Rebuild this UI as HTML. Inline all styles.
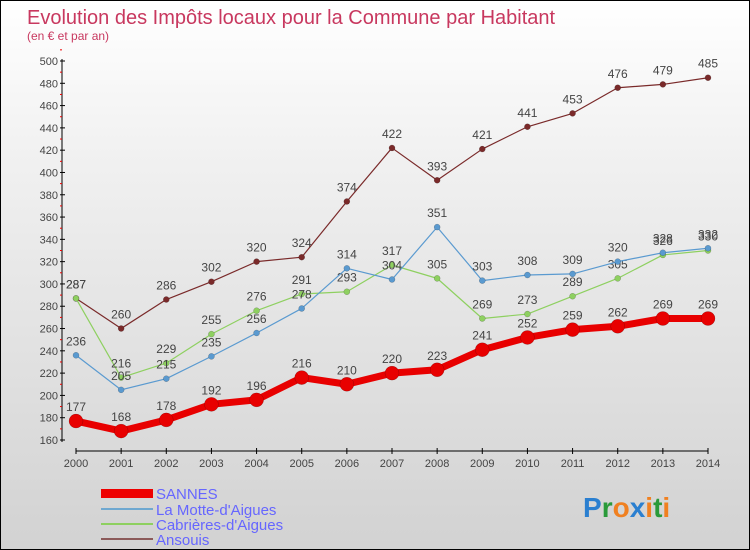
<!DOCTYPE html>
<html><head><meta charset="utf-8"><style>
body{margin:0;}
#c{width:750px;height:550px;position:relative;box-sizing:border-box;border:1px solid #000;background:linear-gradient(#fff,#f0f0f0 30%,#d2d2d2);font-family:"Liberation Sans",sans-serif;overflow:hidden}
svg text{font-family:"Liberation Sans",sans-serif}
</style></head><body>
<div id="c">
<svg width="750" height="550" id="svg">
<text x="26" y="23" font-size="20" fill="#c8385f">Evolution des Impôts locaux pour la Commune par Habitant</text>
<text x="26" y="39" font-size="12" fill="#c8385f">(en € et par an)</text>
<g id="axes"></g><g id="series"></g>
<g>
<rect x="100" y="488" width="52" height="9" fill="#e00"/>
<text x="155" y="498" font-size="15" fill="#66f">SANNES</text>
<rect x="100" y="507" width="52" height="2" fill="#6fa8d0"/>
<text x="155" y="514" font-size="15" fill="#66f">La Motte-d'Aigues</text>
<rect x="100" y="522" width="52" height="2" fill="#8ed060"/>
<text x="155" y="529" font-size="15" fill="#66f">Cabrières-d'Aigues</text>
<rect x="100" y="537" width="52" height="2" fill="#8b5a5a"/>
<text x="155" y="544" font-size="15" fill="#66f">Ansouis</text>
</g>
<text x="582" y="516" font-size="28" font-weight="bold"><tspan fill="#2a7fd0">P</tspan><tspan fill="#2a9a3a">r</tspan><tspan fill="#f08020">o</tspan><tspan fill="#2a7fd0">x</tspan><tspan fill="#f08020">i</tspan><tspan fill="#2a9a3a">t</tspan><tspan fill="#f08020">i</tspan></text>
</svg></div>
<script>
const years=[2000,2001,2002,2003,2004,2005,2006,2007,2008,2009,2010,2011,2012,2013,2014];
const sannes=[177,168,178,192,196,216,210,220,223,241,252,259,262,269,269];
const laMotte=[236,205,215,235,256,278,314,304,351,303,308,309,320,328,332];
const cabrieres=[287,216,229,255,276,291,293,317,305,269,273,289,305,326,330];
const ansouis=[287,260,286,302,320,324,374,422,393,421,441,453,476,479,485];
const yTicks=[160,180,200,220,240,260,280,300,320,340,360,380,400,420,440,460,480,500];
const NS='http://www.w3.org/2000/svg';
function X(i){return 75+i*(707-75)/(years.length-1);}
function Y(v){return 439-(v-160)*(439-60)/340;}
function mk(t,a,p){const e=document.createElementNS(NS,t);for(const k in a)e.setAttribute(k,a[k]);p.appendChild(e);return e;}
const ax=document.getElementById('axes');
const yl=mk('line',{x1:61,y1:58,x2:61,y2:441,stroke:'#000','stroke-width':1},ax);


yTicks.forEach(v=>{
 mk('line',{x1:59,x2:64,y1:Y(v),y2:Y(v),stroke:'#000'},ax);
 mk('line',{x1:59,x2:61,y1:Y(v+10),y2:Y(v+10),stroke:'#e00'},ax);
 const t=mk('text',{x:57,y:Y(v)+4,'font-size':11,fill:'#444','text-anchor':'end'},ax);t.textContent=v;
 
 
});
const xl=mk('line',{x1:75,y1:450,x2:707,y2:450,stroke:'#000','stroke-width':1},ax);


years.forEach((y,i)=>{
 mk('line',{x1:X(i),x2:X(i),y1:447,y2:453,stroke:'#000'},ax);
 const t=mk('text',{x:X(i),y:466,'font-size':11,fill:'#444','text-anchor':'middle'},ax);t.textContent=y;
 
 
});
const sg=document.getElementById('series');
function series(data,color,w,r,name){
 const g=mk('g',{},sg);
 
 
 mk('polyline',{points:data.map((v,i)=>X(i)+','+Y(v)).join(' '),fill:'none',stroke:color,'stroke-width':w,'stroke-linejoin':'round'},g);
 data.forEach((v,i)=>{
  const c=mk('circle',{cx:X(i),cy:Y(v),r:r,fill:color,stroke:'rgba(0,0,0,0.3)','stroke-width':0.5},g);
  
  
  const t=mk('text',{x:X(i),y:Y(v)-10,'font-size':12,fill:'#444','text-anchor':'middle'},g);t.textContent=v;
  
  
 });
}
series(ansouis,'#7a2a2a',1.2,3,'ansouis');
series(cabrieres,'#8ed060',1.2,3,'cabrieres');
series(laMotte,'#5a9ad0',1.2,3,'la-motte');
series(sannes,'#e80000',7,7,'sannes');
</script>
</body></html>
